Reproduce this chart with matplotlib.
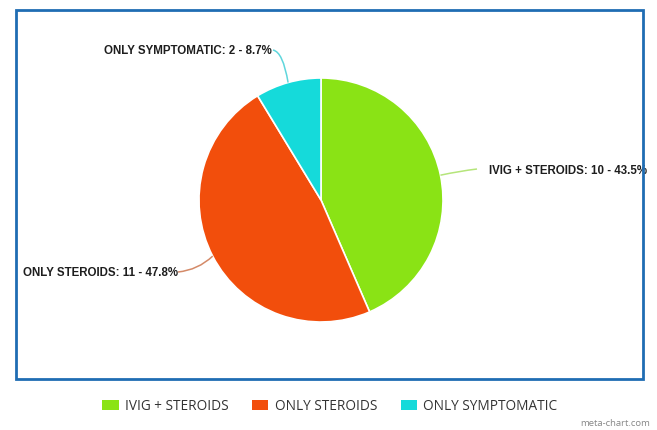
import matplotlib
matplotlib.use("Agg")
import matplotlib.pyplot as plt
import numpy as np
from matplotlib.patches import Rectangle, PathPatch
from matplotlib.path import Path

# Treatment groups
categories = ["IVIG + STEROIDS", "ONLY STEROIDS", "ONLY SYMPTOMATIC"]
counts = [10, 11, 2]
colors = ["#8ae315", "#f24e0c", "#15dada"]
leader_colors = ["#b5e57a", "#d48a68", "#5fd6dc"]

W, H = 657, 430
fig = plt.figure(figsize=(W / 100, H / 100), dpi=100)
ax = fig.add_axes([0, 0, 1, 1])

def py(y):
    """Convert a top-down pixel row to axes y."""
    return H - y

cx, cy, r = 321, py(200), 122
wedges, _ = ax.pie(counts, colors=colors, startangle=90, counterclock=False,
                   center=(cx, cy), radius=r, frame=True,
                   wedgeprops=dict(edgecolor="white", linewidth=1.2))
ax.set_xlim(0, W)
ax.set_ylim(0, H)
ax.set_aspect("equal")
ax.axis("off")

total = sum(counts)
label_font = dict(family=["Liberation Sans", "DejaVu Sans"], weight="bold",
                  fontsize=8.3, color="#1e1e1e")

# label text anchor (x, y, ha) and a control point for the curved leader
label_layout = [
    dict(tx=489, ty=171, ha="left", end=(477, 169), ctrl=(460, 171)),
    dict(tx=178, ty=273, ha="right", end=(178, 272), ctrl=(198, 270)),
    dict(tx=272, ty=51, ha="right", end=(273, 50), ctrl=(283, 52)),
]

for w, cnt, name, lay, lc in zip(wedges, counts, categories, label_layout, leader_colors):
    mid = np.deg2rad((w.theta1 + w.theta2) / 2)
    sx, sy = cx + r * np.cos(mid), cy + r * np.sin(mid)
    ex, ey = lay["end"]
    qx, qy = lay["ctrl"]
    path = Path([(sx, sy), (qx, py(qy)), (ex, py(ey))],
                [Path.MOVETO, Path.CURVE3, Path.CURVE3])
    ax.add_patch(PathPatch(path, fill=False, edgecolor=lc, linewidth=1.1))
    pct = 100 * cnt / total
    ax.text(lay["tx"], py(lay["ty"]), f"{name}: {cnt} - {pct:.1f}%",
            ha=lay["ha"], va="center", **label_font)

# outer frame
ax.add_patch(Rectangle((16, py(379)), 627, 369, fill=False,
                       edgecolor="#1f6db3", linewidth=2.0, zorder=5))

leg = fig.legend(wedges, categories, loc="center", ncol=3,
                 bbox_to_anchor=(330 / W, 1 - 406 / H), frameon=False,
                 handlelength=1.18, handleheight=0.72, handletextpad=0.5,
                 columnspacing=1.7,
                 prop=dict(family=["Open Sans", "DejaVu Sans"], size=9.8))
for t in leg.get_texts():
    t.set_color("#333333")
for h in leg.legend_handles:
    h.set_edgecolor("none")

fig.text(650 / W, 1 - 423 / H, "meta-chart.com", ha="right", va="center",
         fontsize=6.8, color="#888888", family=["Open Sans", "DejaVu Sans"])

fig.savefig("out.png", dpi=100)
